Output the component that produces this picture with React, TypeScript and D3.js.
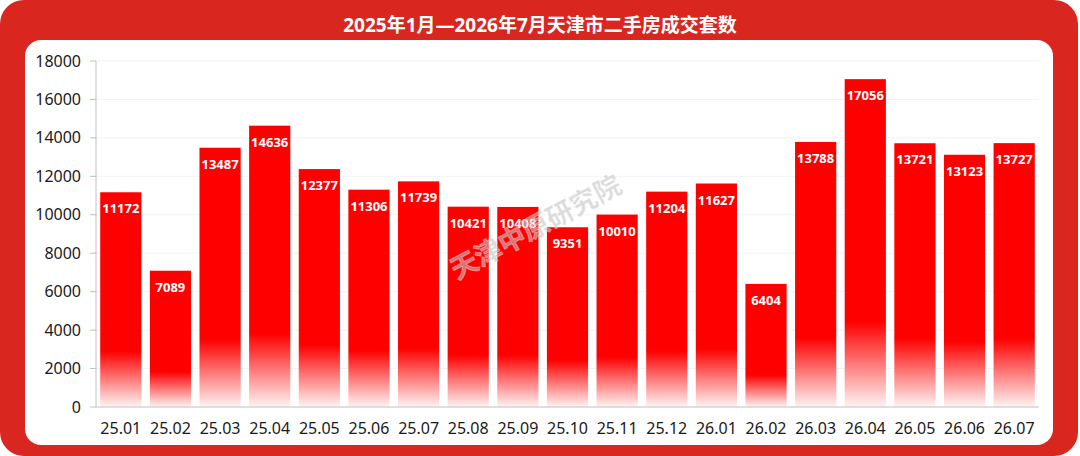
import { useMemo } from 'react';
import * as d3 from 'd3';

const months = [
  '25.01', '25.02', '25.03', '25.04', '25.05', '25.06', '25.07', '25.08', '25.09', '25.10',
  '25.11', '25.12', '26.01', '26.02', '26.03', '26.04', '26.05', '26.06', '26.07',
];
const deals = [
  11172, 7089, 13487, 14636, 12377, 11306, 11739, 10421, 10408, 9351,
  10010, 11204, 11627, 6404, 13788, 17056, 13721, 13123, 13727,
];
const yTicks = [0, 2000, 4000, 6000, 8000, 10000, 12000, 14000, 16000, 18000];

const TITLE = '2025年1月—2026年7月天津市二手房成交套数';
const WATERMARK = '天津中原研究院';

const W = 1080;
const H = 456;
const PLOT = { left: 96, right: 1039, top: 61, bottom: 407 };
const font = '"Noto Sans", "Open Sans", "Noto Sans CJK SC", sans-serif';

export default function App() {
  const x = useMemo(
    () => d3.scaleBand<string>().domain(months).range([PLOT.left, PLOT.right]).paddingInner(0.17).paddingOuter(0.085),
    [],
  );
  const y = useMemo(() => d3.scaleLinear().domain([0, 18000]).range([PLOT.bottom, PLOT.top]), []);

  return (
    <svg width={W} height={H} style={{ position: 'absolute', left: 0, top: 0 }} fontFamily={font}>
      <defs>
        <linearGradient id="barFade" x1="0" x2="0" y1="0" y2="1">
          <stop offset="0" stopColor="#ff0000" />
          <stop offset="0.74" stopColor="#ff0000" />
          <stop offset="1" stopColor="#fff4f4" />
        </linearGradient>
      </defs>
      <rect x={0} y={0} width={1078} height={H} rx={24} fill="#d9261f" />
      <rect x={25} y={40} width={1028} height={405} rx={16} fill="#ffffff" />
      <text x={540} y={32} textAnchor="middle" fill="#ffffff" fontSize={19} fontWeight={700}>
        {TITLE}
      </text>

      {yTicks.map(t => (
        <g key={t}>
          {t > 0 && <line x1={PLOT.left} x2={PLOT.right} y1={y(t)} y2={y(t)} stroke="#f3f3f3" />}
          <line x1={PLOT.left - 6} x2={PLOT.left} y1={y(t)} y2={y(t)} stroke="#bfbfbf" />
          <text x={PLOT.left - 15} y={y(t)} dy="0.35em" textAnchor="end" fontSize={16} fill="#1a1a1a">
            {t}
          </text>
        </g>
      ))}
      <line x1={PLOT.left} x2={PLOT.left} y1={PLOT.top} y2={PLOT.bottom} stroke="#bfbfbf" />

      {months.map((m, i) => {
        const v = deals[i];
        const bx = x(m) ?? 0;
        return (
          <g key={m}>
            <rect x={bx} y={y(v)} width={x.bandwidth()} height={y(0) - y(v)} fill="url(#barFade)" />
            <text
              x={bx + x.bandwidth() / 2}
              y={y(v) + 21}
              textAnchor="middle"
              fill="#ffffff"
              fontSize={13}
              fontWeight={700}
            >
              {v}
            </text>
            <text x={bx + x.bandwidth() / 2} y={PLOT.bottom + 27} textAnchor="middle" fontSize={16} fill="#1a1a1a">
              {m}
            </text>
          </g>
        );
      })}
      <line x1={PLOT.left} x2={PLOT.right} y1={PLOT.bottom} y2={PLOT.bottom} stroke="#bfbfbf" />

      {/* watermark */}
      <text
        x={537}
        y={229}
        textAnchor="middle"
        dominantBaseline="middle"
        transform="rotate(-28 537 229)"
        fontSize={27}
        fontWeight={700}
        fill="#c4c4c4"
        fillOpacity={0.6}
        stroke="#ffffff"
        strokeOpacity={0.35}
        strokeWidth={1}
      >
        {WATERMARK}
      </text>
    </svg>
  );
}
